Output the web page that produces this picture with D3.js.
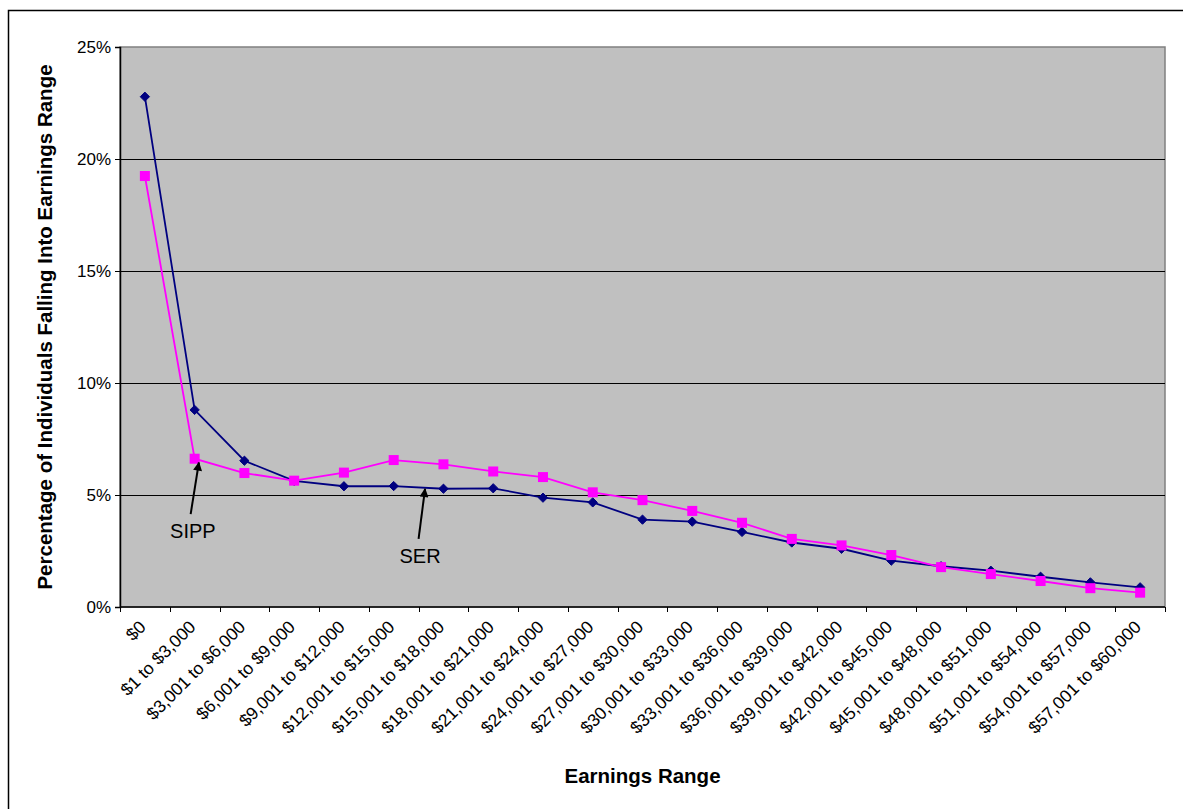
<!DOCTYPE html>
<html>
<head>
<meta charset="utf-8">
<script src="https://cdn.jsdelivr.net/npm/d3@7"></script>
<style>
  html, body { margin: 0; padding: 0; background: #fff; }
  svg { display: block; font-family: "Liberation Sans", Arial, sans-serif; }
</style>
</head>
<body>
<svg id="chart" width="1183" height="809"></svg>
<script>
const categories = ["$0", "$1 to $3,000", "$3,001 to $6,000", "$6,001 to $9,000", "$9,001 to $12,000",
  "$12,001 to $15,000", "$15,001 to $18,000", "$18,001 to $21,000", "$21,001 to $24,000",
  "$24,001 to $27,000", "$27,001 to $30,000", "$30,001 to $33,000", "$33,001 to $36,000",
  "$36,001 to $39,000", "$39,001 to $42,000", "$42,001 to $45,000", "$45,001 to $48,000",
  "$48,001 to $51,000", "$51,001 to $54,000", "$54,001 to $57,000", "$57,001 to $60,000"];
const serValues  = [22.78, 8.8, 6.53, 5.63, 5.39, 5.4, 5.28, 5.3, 4.88, 4.67, 3.9, 3.81, 3.35, 2.88, 2.6, 2.07, 1.82, 1.62, 1.35, 1.1, 0.88];
const sippValues = [19.24, 6.62, 5.98, 5.64, 6.0, 6.56, 6.37, 6.05, 5.8, 5.12, 4.77, 4.29, 3.76, 3.04, 2.75, 2.32, 1.78, 1.47, 1.16, 0.84, 0.64];
const yTicks = [0, 5, 10, 15, 20, 25];
const yTitle = "Percentage of Individuals Falling Into Earnings Range";
const xTitle = "Earnings Range";
// annotation positions in data space: category index (fractional) and percentage value
const annotLabels = ["SIPP", "SER"];
const annotText = [[0.965, 3.08], [5.53, 1.96]];
const annotTail = [[0.92, 4.15], [5.50, 3.04]];
const annotTip  = [[1.085, 6.45], [5.63, 5.27]];

const svg = d3.select("#chart");
const L = 120, R = 1165, T = 47, B = 607;

// outer frame
svg.append("rect").attr("x", 8.5).attr("y", 10.5).attr("width", 1200).attr("height", 820)
  .attr("fill", "none").attr("stroke", "#000").attr("stroke-width", 1.5);

const x = d3.scaleBand().domain(categories).range([L, R]).paddingInner(0).paddingOuter(0);
const xi = d3.scaleLinear().domain([-0.5, categories.length - 0.5]).range([L, R]);
const y = d3.scaleLinear().domain([0, 25]).range([B, T]);
const cx = d => x(d) + x.bandwidth() / 2;

// plot area
svg.append("rect").attr("x", L).attr("y", T).attr("width", R - L).attr("height", B - T)
  .attr("fill", "#C0C0C0").attr("stroke", "#808080").attr("stroke-width", 1.5);

// gridlines
svg.append("g").selectAll("line").data(yTicks.filter(t => t > 0 && t < 25)).join("line")
  .attr("x1", L).attr("x2", R).attr("y1", d => Math.round(y(d)) + 0.5).attr("y2", d => Math.round(y(d)) + 0.5)
  .attr("stroke", "#000").attr("stroke-width", 1);

// y axis
const yAxis = d3.axisLeft(y).tickValues(yTicks).tickFormat(d => d + "%").tickSize(5).tickPadding(4);
const gy = svg.append("g").attr("transform", `translate(${L},0)`).call(yAxis);
gy.attr("font-size", null).attr("font-family", null);
gy.select(".domain").attr("stroke", "#000").attr("stroke-width", 1.5);
gy.selectAll(".tick line").attr("stroke", "#000");
gy.selectAll(".tick text").attr("font-size", 17).attr("fill", "#000");

// x axis line + ticks at category boundaries
const boundaries = categories.map(c => x(c)).concat([R]);
svg.append("line").attr("x1", L).attr("x2", R).attr("y1", B).attr("y2", B).attr("stroke", "#000").attr("stroke-width", 1.5);
svg.append("g").selectAll("line").data(boundaries).join("line")
  .attr("x1", d => Math.round(d) + 0.5).attr("x2", d => Math.round(d) + 0.5).attr("y1", B).attr("y2", B + 5)
  .attr("stroke", "#000");

// x labels rotated
svg.append("g").selectAll("text").data(categories).join("text")
  .attr("transform", d => `translate(${cx(d) + 2},${B + 21}) rotate(-45)`)
  .attr("text-anchor", "end").attr("font-size", 17.5).attr("fill", "#000")
  .text(d => d);

// titles
svg.append("text").attr("x", (L + R) / 2).attr("y", 783).attr("text-anchor", "middle")
  .attr("font-size", 20.5).attr("font-weight", "bold").text(xTitle);
svg.append("text").attr("transform", `translate(52,${(T + B) / 2}) rotate(-90)`).attr("text-anchor", "middle")
  .attr("font-size", 20.5).attr("font-weight", "bold").text(yTitle);

// series
const line = d3.line().x((d, i) => cx(categories[i])).y(d => y(d));
svg.append("path").datum(serValues).attr("d", line).attr("fill", "none").attr("stroke", "#000080").attr("stroke-width", 1.8);
svg.append("g").selectAll("path").data(serValues).join("path")
  .attr("d", d3.symbol().type(d3.symbolDiamond2).size(55))
  .attr("transform", (d, i) => `translate(${cx(categories[i])},${y(d)})`)
  .attr("fill", "#000080").attr("stroke", "#000080").attr("stroke-width", 1);

svg.append("path").datum(sippValues).attr("d", line).attr("fill", "none").attr("stroke", "#FF00FF").attr("stroke-width", 1.8);
svg.append("g").selectAll("rect").data(sippValues).join("rect")
  .attr("x", (d, i) => cx(categories[i]) - 5).attr("y", d => y(d) - 5)
  .attr("width", 10).attr("height", 10).attr("fill", "#FF00FF");

// annotations
const defs = svg.append("defs");
defs.append("marker").attr("id", "arrow").attr("viewBox", "0 0 10 10").attr("refX", 9).attr("refY", 5)
  .attr("markerWidth", 5).attr("markerHeight", 4.5).attr("orient", "auto")
  .append("path").attr("d", "M0,0 L10,5 L0,10 Z").attr("fill", "#000");
annotLabels.forEach((label, k) => {
  svg.append("line")
    .attr("x1", xi(annotTail[k][0])).attr("y1", y(annotTail[k][1]))
    .attr("x2", xi(annotTip[k][0])).attr("y2", y(annotTip[k][1]))
    .attr("stroke", "#000").attr("stroke-width", 2).attr("marker-end", "url(#arrow)");
  svg.append("text").attr("x", xi(annotText[k][0])).attr("y", y(annotText[k][1])).attr("text-anchor", "middle")
    .attr("font-size", 20).attr("fill", "#000").text(label);
});
</script>
</body>
</html>
